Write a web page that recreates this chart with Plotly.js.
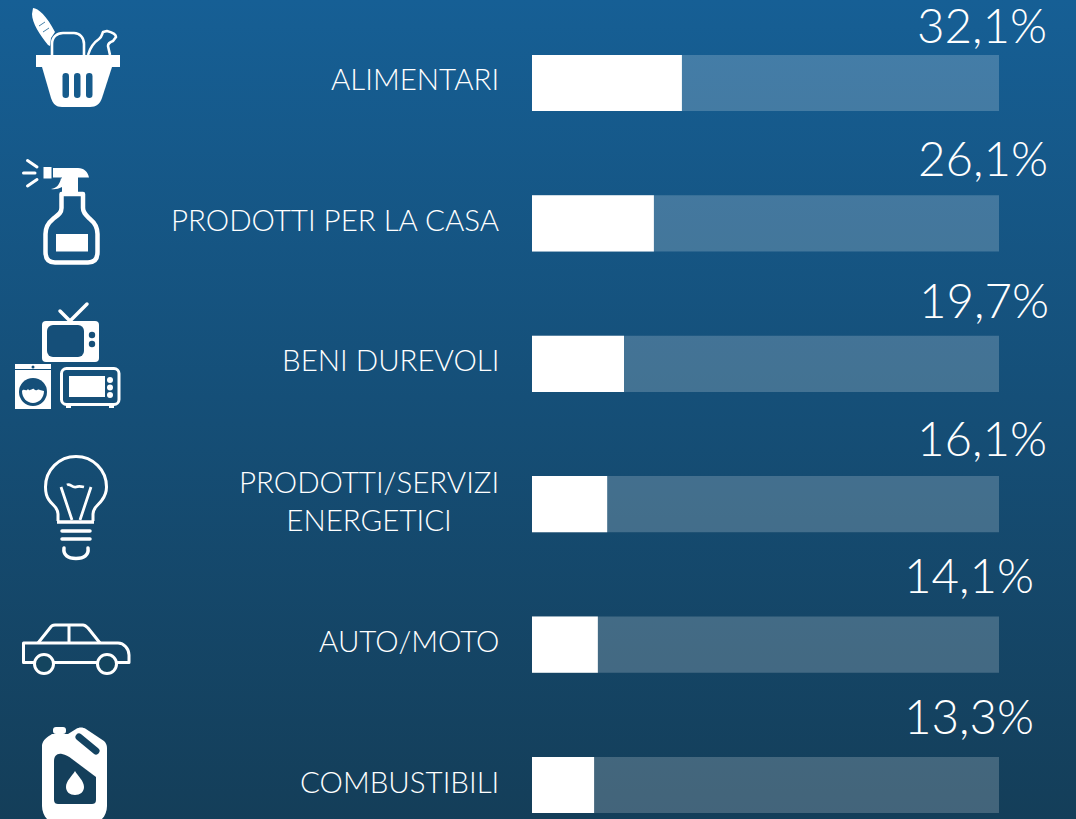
<!DOCTYPE html>
<html>
<head>
<meta charset="utf-8">
<script src="https://cdn.plot.ly/plotly-3.0.1.min.js"></script>
<style>
html,body{margin:0;padding:0;width:1076px;height:819px;overflow:hidden;background:linear-gradient(180deg,#165f95 0%,#143e59 100%);}
#chart{width:1076px;height:819px;}
</style>
</head>
<body>
<div id="chart"></div>
<script>
const categories = ['ALIMENTARI','PRODOTTI PER LA CASA','BENI DUREVOLI','PRODOTTI/SERVIZI<br>ENERGETICI','AUTO/MOTO','COMBUSTIBILI'];
const values = [32.1,26.1,19.7,16.1,14.1,13.3];
const trackTotal = [100,100,100,100,100,100];
const valueLabels = ['32,1%','26,1%','19,7%','16,1%','14,1%','13,3%'];
// pixel nudges of the value labels relative to the track end / bar centre
const labelDx = [50,51,52,50,37,37];
const labelDy = [-58,-66,-64,-67,-70,-70];

const W = '#ffffff';
const icons = `
<svg xmlns="http://www.w3.org/2000/svg" width="1076" height="819" viewBox="0 0 1076 819">
<g fill="${W}" stroke="none">
 <path d="M33 8C38 8 47 16 55 32L51 38L50 46L48 45C40 35 32 23 32 14Z"/>
 <rect x="36" y="55" width="84" height="12"/>
 <path d="M42 67H112L102 98C100 104 96 107 90 107H62C56 107 53 104 51 98Z"/>
</g>
<path d="M39 26L45 22M43 32L49 28" stroke="#165f92" stroke-width="0.8" fill="none"/>
<g fill="#165b8c">
 <rect x="62.5" y="73" width="6.5" height="25" rx="3.2"/><rect x="74" y="73" width="6.5" height="25" rx="3.2"/><rect x="86" y="73" width="6.5" height="25" rx="3.2"/>
</g>
<g fill="none" stroke="${W}" stroke-width="2.6" stroke-linejoin="round">
 <path d="M52 55V44C52 37 57 33 63 33H74C80 33 84 38 84 44V55"/>
 <path d="M88 55C90 48 93 43 99 39C102 37 102 34 103 32L107 31C111 32 116 34 116 37L113 41C110 42 108 43 108 46L110 55"/>
</g>
<g fill="none" stroke="${W}" stroke-width="3" stroke-linecap="round">
 <path d="M27.5 160.500L37 167M23.500 173H35M27.500 186L37 179.500"/>
</g>
<g fill="${W}">
 <rect x="43.500" y="167" width="8" height="11.500"/>
 <path d="M53 168H78C84 168 88 172 89 177.500H78V192H62V177.500H53Z"/>
 <path d="M61 178C60 184 57 188 51 189C58 190 64 187 67 182Z"/>
 <rect x="56" y="234" width="32" height="17.500"/>
</g>
<path fill="none" stroke="${W}" stroke-width="4.500" stroke-linejoin="round" d="M61.500 194H83V208C83 213 86 215 90 219C95 223 97.500 228 97.500 234V252C97.500 259 94 262.500 88 262.500H55C49 262.500 45.500 259 45.500 252V234C45.500 228 48 223 53 219C58 215 61.500 213 61.500 208Z"/>

<path fill="none" stroke="${W}" stroke-width="3.500" stroke-linecap="round" d="M60 311L70 321L87 304"/>
<rect x="42" y="321" width="57" height="41" rx="4" fill="${W}"/>
<rect x="47" y="325" width="37" height="32" rx="6" fill="#154f79"/>
<circle cx="92" cy="335" r="3.200" fill="#154f79"/><circle cx="92" cy="344" r="3.200" fill="#154f79"/>
<rect x="15" y="364" width="36" height="45" fill="${W}"/>
<rect x="15" y="369" width="36" height="1" fill="#154f79"/>
<circle cx="33" cy="367" r="1.500" fill="#154f79"/>
<circle cx="33" cy="392" r="14" fill="#154f79"/>
<path d="M22 391C24 388 26 392 28 389C30 392 32 388 34 389C36 392 38 388 40 390L44 391C44 398 39 403 33 403C27 403 22 398 22 391Z" fill="${W}"/>
<rect x="61.500" y="368.500" width="57.500" height="36" rx="5" fill="none" stroke="${W}" stroke-width="3"/>
<rect x="66" y="405" width="5" height="3" fill="${W}"/><rect x="109" y="405" width="5" height="3" fill="${W}"/>
<rect x="69" y="376" width="36" height="21" fill="${W}"/>
<circle cx="110" cy="380" r="3" fill="${W}"/><circle cx="110" cy="387.500" r="3" fill="${W}"/><circle cx="110" cy="395" r="3" fill="${W}"/>

<g fill="none" stroke="${W}" stroke-width="3">
 <path d="M58 521V514C58 507 52 505 49 500C46 496 45.500 491 45.500 487C45.500 470 59 456.500 76 456.500C93 456.500 106.500 470 106.500 487C106.500 491 105 496 102 500C99 505 93 507 93 514V521"/>
 <path d="M57 522H94" stroke-width="3.500"/>
 <path d="M61 487L72 520M91 487L80 520M67 485C70 483 72 488 76 487C78 486 80 486 84 487" stroke-width="2.800"/>
</g>
<g fill="none" stroke="${W}" stroke-width="3.500" stroke-linecap="round">
 <path d="M62 531H90M62 539H90"/>
 <path d="M64 548C63 555 68 558.500 76 558.500C84 558.500 89 555 88 548"/>
</g>

<g fill="none" stroke="${W}" stroke-width="3" stroke-linejoin="round">
 <path d="M38 643L50 628C51 626 53 625 55 625H83C85 625 86 626 88 628L100 643"/>
 <path d="M69 626V643"/>
 <path d="M23.500 643H118C124 643 129 649 129 655V662.500H23.500Z"/>
 <circle cx="44" cy="664" r="9.500" fill="#14455f"/>
 <circle cx="107" cy="664" r="9.500" fill="#14455f"/>
</g>

<g fill="${W}">
 <rect x="53" y="727" width="13" height="7" rx="3"/>
 <path d="M42 745C43 740 47 737 52 734H68L76 729C79 727 83 727 86 729L104 741C106 743 107 745 107 748V806C107 811 105 816 102 819H47C44 816 42 811 42 806Z"/>
</g>
<path d="M54 761C54 756 57 753 62 754C66 755 68 756 72 759L96 777V800C96 803 94 804 92 804H58C56 804 54 803 54 800Z" fill="#143f5b"/>
<path d="M79 737L96 751" fill="none" stroke="#144361" stroke-width="7" stroke-linecap="round"/>
<path d="M75 771C78 776 84 781 84 787C84 792 80 795 75 795C70 795 66 792 66 787C66 781 72 776 75 771Z" fill="${W}"/>
</svg>`;

const traces = [
  {type:'bar',orientation:'h',y:categories,x:trackTotal,marker:{color:'rgba(255,255,255,0.2)',line:{width:0}},hoverinfo:'skip',showlegend:false},
  {type:'bar',orientation:'h',y:categories,x:values,marker:{color:W,line:{width:0}},hoverinfo:'skip',showlegend:false}
];

const catAnn = categories.map((c,i)=>({
  text:c,xref:'x',yref:'y',x:0,y:i,xanchor:'right',yanchor:'middle',xshift:-31,yshift:4,
  align:'center',showarrow:false,font:{family:'Lato, sans-serif',weight:300,size:29.5,color:W}
}));
const valAnn = valueLabels.map((t,i)=>({
  text:t,xref:'x',yref:'y',x:100,y:i,xanchor:'right',yanchor:'middle',xshift:labelDx[i],yshift:-labelDy[i],
  showarrow:false,font:{family:'Lato, sans-serif',weight:300,size:47.5,color:W}
}));

const layout = {
  width:1076,height:819,
  margin:{l:532,r:77,t:0,b:0,pad:0},
  paper_bgcolor:'rgba(0,0,0,0)',plot_bgcolor:'rgba(0,0,0,0)',
  barmode:'overlay',bargap:0.6,showlegend:false,
  xaxis:{range:[0,100],visible:false,fixedrange:true},
  yaxis:{type:'category',range:[5.242,-0.591],autorange:false,visible:false,fixedrange:true,categoryorder:'array',categoryarray:categories},
  annotations:catAnn.concat(valAnn),
  images:[{source:'data:image/svg+xml;charset=utf-8,'+encodeURIComponent(icons),xref:'paper',yref:'paper',x:-532/467,y:1,sizex:1076/467,sizey:1,xanchor:'left',yanchor:'top',sizing:'stretch',layer:'below'}]
};
Plotly.newPlot('chart',traces,layout,{displayModeBar:false,staticPlot:true});
</script>
</body>
</html>
